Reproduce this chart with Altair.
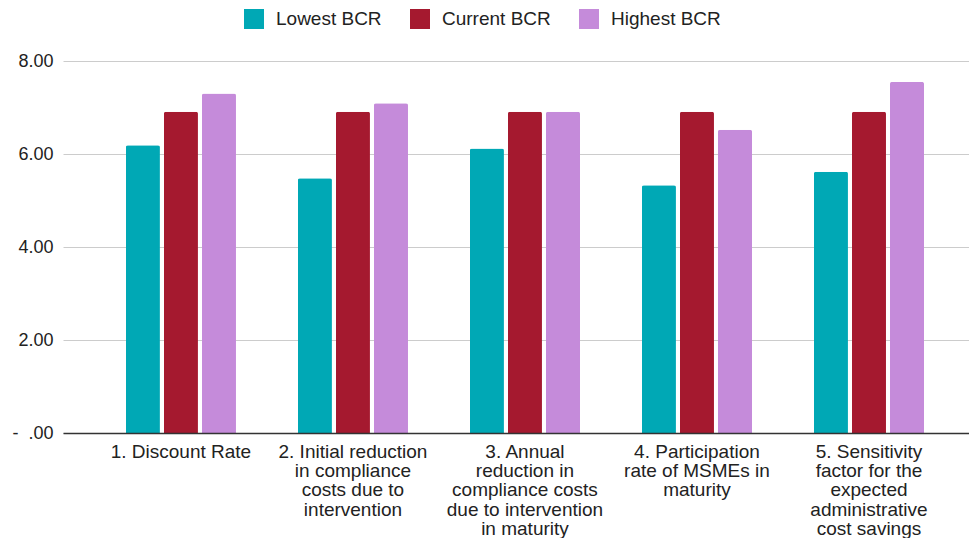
import altair as alt
import pandas as pd

categories = [
    "1. Discount Rate",
    "2. Initial reduction|in compliance|costs due to|intervention",
    "3. Annual|reduction in|compliance costs|due to intervention|in maturity",
    "4. Participation|rate of MSMEs in|maturity",
    "5. Sensitivity|factor for the|expected|administrative|cost savings",
]
series = ["Lowest BCR", "Current BCR", "Highest BCR"]
lowest = [6.19, 5.48, 6.12, 5.33, 5.62]
current = [6.91, 6.91, 6.91, 6.91, 6.91]
highest = [7.30, 7.09, 6.91, 6.52, 7.55]
colors = ["#00A8B5", "#A5192F", "#C58BDA"]

rows = []
for i, c in enumerate(categories):
    for s, vals in zip(series, [lowest, current, highest]):
        rows.append({"category": c, "series": s, "value": vals[i]})
df = pd.DataFrame(rows)

FONT = "Liberation Sans"

chart = alt.Chart(df).mark_bar(
    cornerRadiusTopLeft=2, cornerRadiusTopRight=2
).encode(
    x=alt.X(
        "category:N",
        sort=categories,
        title=None,
        scale=alt.Scale(paddingInner=0.36, paddingOuter=0.3136, align=0.583),
        axis=alt.Axis(
            labelAngle=0,
            labelExpr="split(datum.label, '|')",
            labelFont=FONT,
            labelFontSize=19,
            labelColor="#222222",
            labelLineHeight=19.4,
            labelPadding=9,
            labelBaseline="top",
            labelLimit=300,
            ticks=False,
            domainColor="#333333",
            domainWidth=1.5,
            grid=False,
            zindex=1,
        ),
    ),
    xOffset=alt.XOffset(
        "series:N",
        sort=series,
        scale=alt.Scale(paddingInner=0.105, paddingOuter=0),
    ),
    y=alt.Y(
        "value:Q",
        title=None,
        scale=alt.Scale(domain=[0, 8], nice=False),
        axis=alt.Axis(
            values=[0, 2, 4, 6, 8],
            labelExpr="datum.value == 0 ? '-\u00a0\u00a0.00' : format(datum.value, '.2f')",
            labelFont=FONT,
            labelFontSize=18,
            labelColor="#222222",
            labelPadding=10,
            ticks=False,
            domain=False,
            gridColor="#cccccc",
            gridWidth=1,
        ),
    ),
    color=alt.Color(
        "series:N",
        sort=series,
        scale=alt.Scale(domain=series, range=colors),
        legend=alt.Legend(
            title=None,
            orient="none",
            direction="horizontal",
            legendX=181,
            legendY=-52,
            symbolType="square",
            symbolSize=400,
            symbolStrokeWidth=0,
            labelFont=FONT,
            labelFontSize=19,
            labelColor="#222222",
            labelOffset=12,
            columnPadding=28,
            padding=0,
        ),
    ),
).properties(
    width=906,
    height=372,
    autosize=alt.AutoSizeParams(type="none"),
    padding={"left": 55, "top": 53, "right": 0, "bottom": 105},
).configure_view(stroke=None)

chart.save("out.html", embed_options={"renderer": "svg", "actions": False})
